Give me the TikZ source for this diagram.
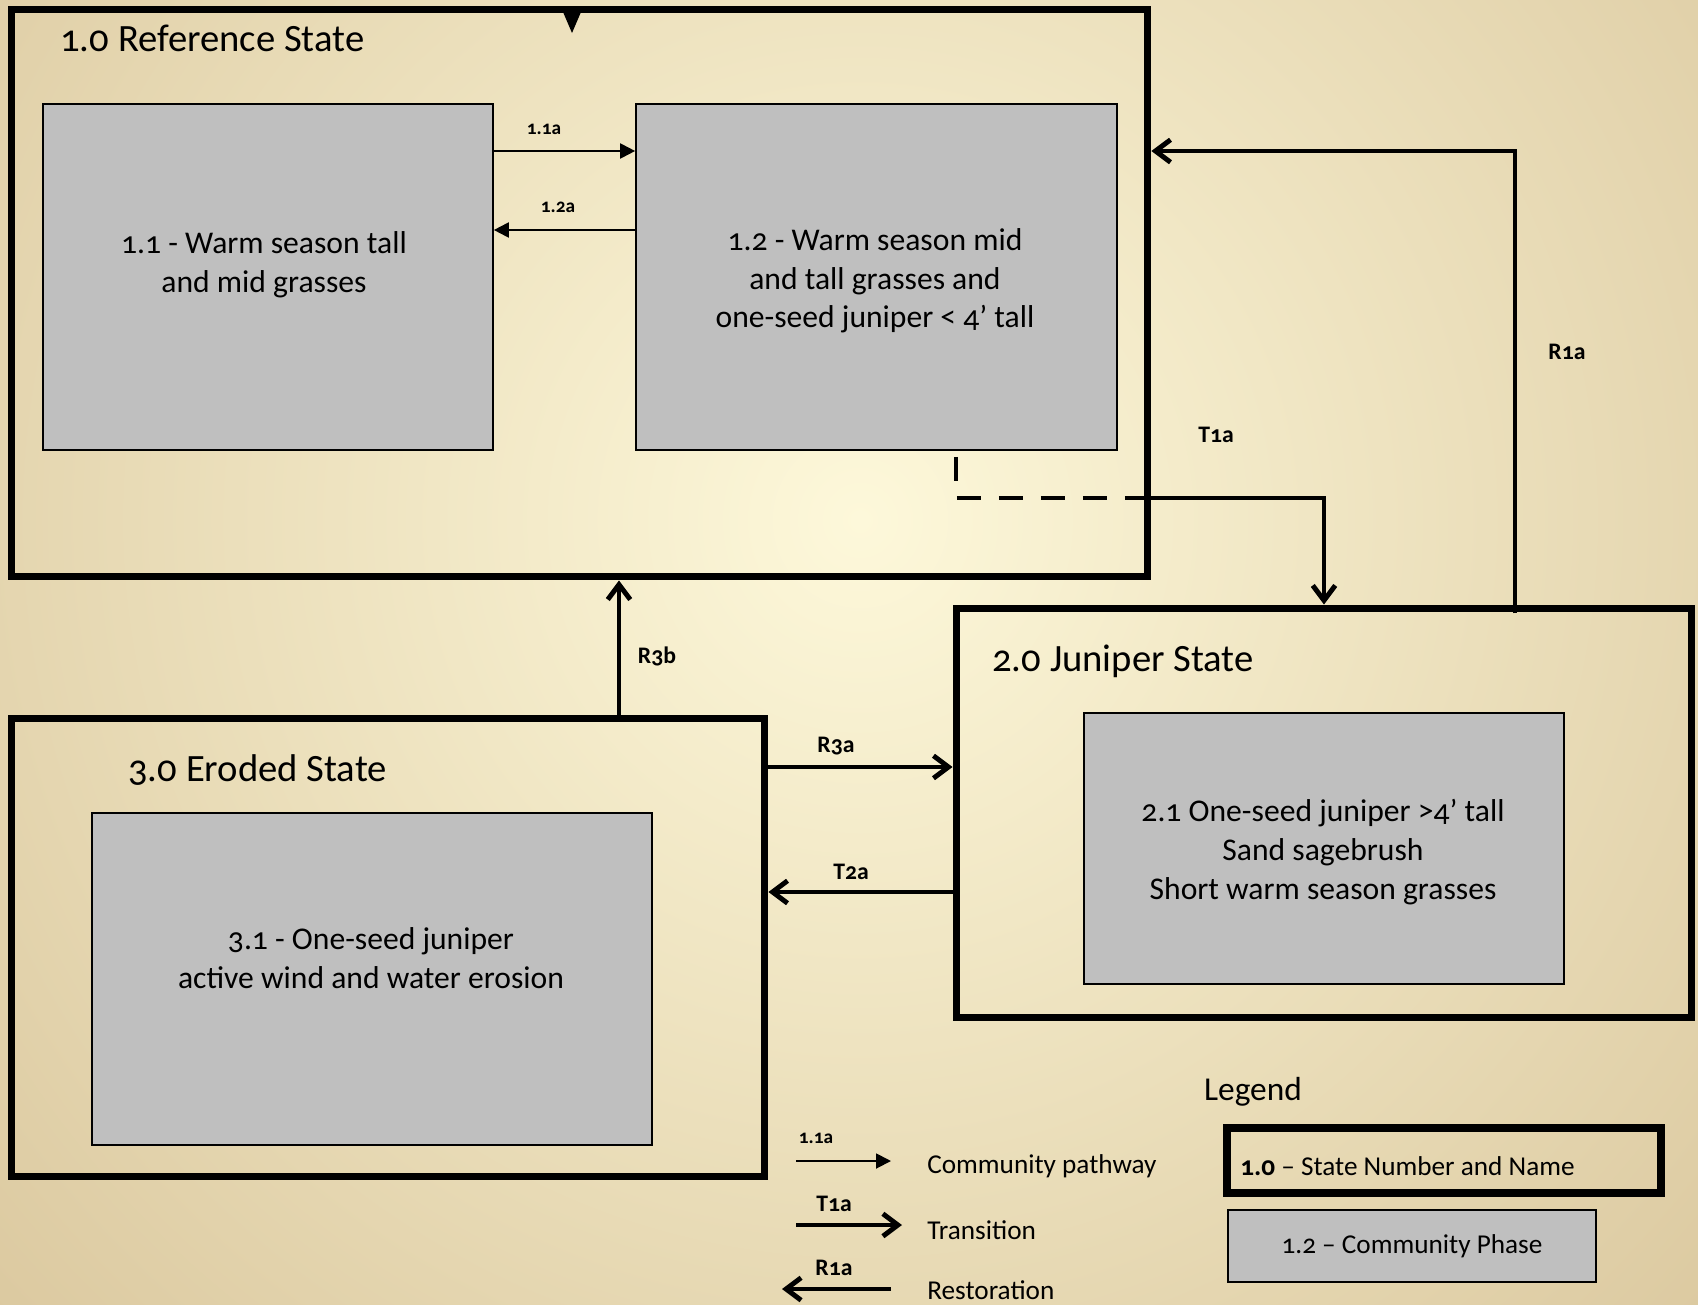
\documentclass[tikz,border=0pt]{standalone}
\usepackage{fontspec}
\setmainfont{Carlito}[Numbers=OldStyle]
\usepackage{tikz}
\usetikzlibrary{arrows.meta, positioning}
\usepackage{xcolor}
\definecolor{cream}{HTML}{FDF8DA}
\definecolor{tan}{HTML}{C4A877}
\definecolor{phasegray}{HTML}{BFBFBF}

\begin{document}
\begin{tikzpicture}[x=0.02cm, y=-0.02cm]
\tikzstyle{statebox} = [
	shape=rectangle,
	draw=black, %thick state frame
	line width=4pt,
	inner sep=0pt
];
\tikzstyle{phasebox} = [
	shape=rectangle,
	draw=black,
	fill=phasegray, %grey community phase
	line width=1pt,
	align=center,
	font=\fontsize{18}{22}\selectfont
];
\tikzstyle{phasetext} = [
	align=center,
	inner sep=0pt,
	font=\fontsize{18}{22}\selectfont
];
\tikzstyle{statetitle} = [
	inner sep=0pt,
	font=\fontsize{22}{26}\selectfont
];
\tikzstyle{arrowlab} = [
	inner sep=0pt,
	font=\fontsize{13.5}{16}\selectfont\bfseries
];
\tikzstyle{smalllab} = [
	inner sep=0pt,
	font=\fontsize{11}{13}\selectfont\bfseries
];
\tikzstyle{legendtext} = [
	inner sep=0pt,
	font=\fontsize{15.5}{18}\selectfont
];
\tikzstyle{pathway} = [
	-{Triangle[length=0.3cm,width=0.3cm]},
	line width=1.1pt,
	color=black
];
\tikzstyle{transition} = [
	-{Straight Barb[length=0.3cm,width=0.45cm]},
	line width=2.8pt,
	color=black
];

%background
\begin{scope}
	\clip (0,0) rectangle (1698,1305);
	\shade[inner color=cream, outer color=tan] (860,520) circle (40cm);
\end{scope}
\useasboundingbox (0,0) rectangle (1698,1305);

%states
\node[statebox, minimum width=22.74cm, minimum height=11.36cm] (s1) at (579.5,293) {};
\node[statebox, minimum width=14.72cm, minimum height=8.2cm] (s2) at (1324,813) {};
\node[statebox, minimum width=15.08cm, minimum height=9.18cm] (s3) at (388,947.5) {};

\node[statetitle, anchor=base west] (n1) at (60,51) {1.0 Reference State};
\node[statetitle, anchor=base west] (n2) at (992,671) {2.0 Juniper State};
\node[statetitle, anchor=base west] (n3) at (128,781) {3.0 Eroded State};

\fill[black] (563,12) -- (581,12) -- (572,33) -- cycle;

%community phases
\node[phasebox, minimum width=9cm, minimum height=6.92cm] (p11) at (268,277) {};
\node[phasebox, minimum width=9.62cm, minimum height=6.92cm] (p12) at (876.5,277) {};
\node[phasebox, minimum width=9.6cm, minimum height=5.42cm] (p21) at (1324,848.5) {};
\node[phasebox, minimum width=11.2cm, minimum height=6.64cm] (p31) at (372,979) {};

\node[phasetext] (t11) at (264,265) {1.1 - Warm season tall\\and mid grasses};
\node[phasetext] (t12) at (875,281) {1.2 - Warm season mid\\and tall grasses and\\one-seed juniper < 4’ tall};
\node[phasetext] (t21) at (1323,852) {2.1 One-seed juniper >4’ tall\\Sand sagebrush\\Short warm season grasses};
\node[phasetext] (t31) at (371,958) {3.1 - One-seed juniper\\active wind and water erosion};

\coordinate (y11a) at (0,151);
\coordinate (y12a) at (0,230);
\coordinate (yt1a) at (0,498);
\coordinate (xt1a) at (956,0);
\coordinate (xr1a) at (1515,0);
\coordinate (xr3b) at (619,0);
\coordinate (yr3a) at (0,767);
\coordinate (yt2a) at (0,892);

%community pathways
\draw[pathway] (p11.east |- y11a) -- (p12.west |- y11a);
\draw[pathway] (p12.west |- y12a) -- (p11.east |- y12a);
\node[smalllab] (l11a) at (544,129) {1.1a};
\node[smalllab] (l12a) at (558,207) {1.2a};

%transitions
\draw[line width=2.8pt, dash pattern=on 0.48cm off 0.36cm, dash phase=0.72cm]
	(p12.south -| xt1a) -- (xt1a |- yt1a) -- (s1.east |- yt1a);
\draw[transition] (s1.east |- yt1a) -| (s2.north);
\draw[transition] (s2.west |- yt2a) -- (s3.east |- yt2a);
\node[arrowlab] (lt1a) at (1216,435) {T1a};
\node[arrowlab] (lt2a) at (851,872) {T2a};

%restorations
\draw[transition, shorten <=-5pt]
	(s2.north -| xr1a) -- (xr1a |- y11a) -- (s1.east |- y11a);
\draw[transition] (s3.east |- yr3a) -- (s2.west |- yr3a);
\draw[transition] (s3.north -| xr3b) -- (s1.south -| xr3b);
\node[arrowlab] (lr1a) at (1567,352) {R1a};
\node[arrowlab] (lr3a) at (836,746) {R3a};
\node[arrowlab] (lr3b) at (657,656) {R3b};

%legend
\node[legendtext, font=\fontsize{19}{22}\selectfont] (lg) at (1253,1092) {Legend};
\coordinate (cpa) at (796,1161);
\coordinate (cpb) at (891,1161);
\coordinate (tra) at (796,1225);
\coordinate (trb) at (902,1225);
\coordinate (rsa) at (891,1289);
\coordinate (rsb) at (782,1289);
\draw[pathway] (cpa) -- (cpb);
\draw[transition] (tra) -- (trb);
\draw[transition] (rsa) -- (rsb);
\node[smalllab] (lg11a) at (816,1138) {1.1a};
\node[arrowlab] (lgt1a) at (834,1204) {T1a};
\node[arrowlab] (lgr1a) at (834,1268) {R1a};
\node[legendtext, anchor=west] (lcp) at (927,1166) {Community pathway};
\node[legendtext, anchor=west] (ltr) at (927,1230) {Transition};
\node[legendtext, anchor=base west] (lrs) at (927,1299) {Restoration};

\node[statebox, line width=5pt, minimum width=8.68cm, minimum height=1.3cm] (ls) at (1444,1160.5) {};
\node[legendtext, anchor=west] (lst) at (1240,1166) {\textbf{1.0} – State Number and Name};
\node[phasebox, minimum width=7.36cm, minimum height=1.44cm,
	font=\fontsize{15.5}{18}\selectfont] (lp) at (1412,1246) {1.2 – Community Phase};

\end{tikzpicture}
\end{document}
